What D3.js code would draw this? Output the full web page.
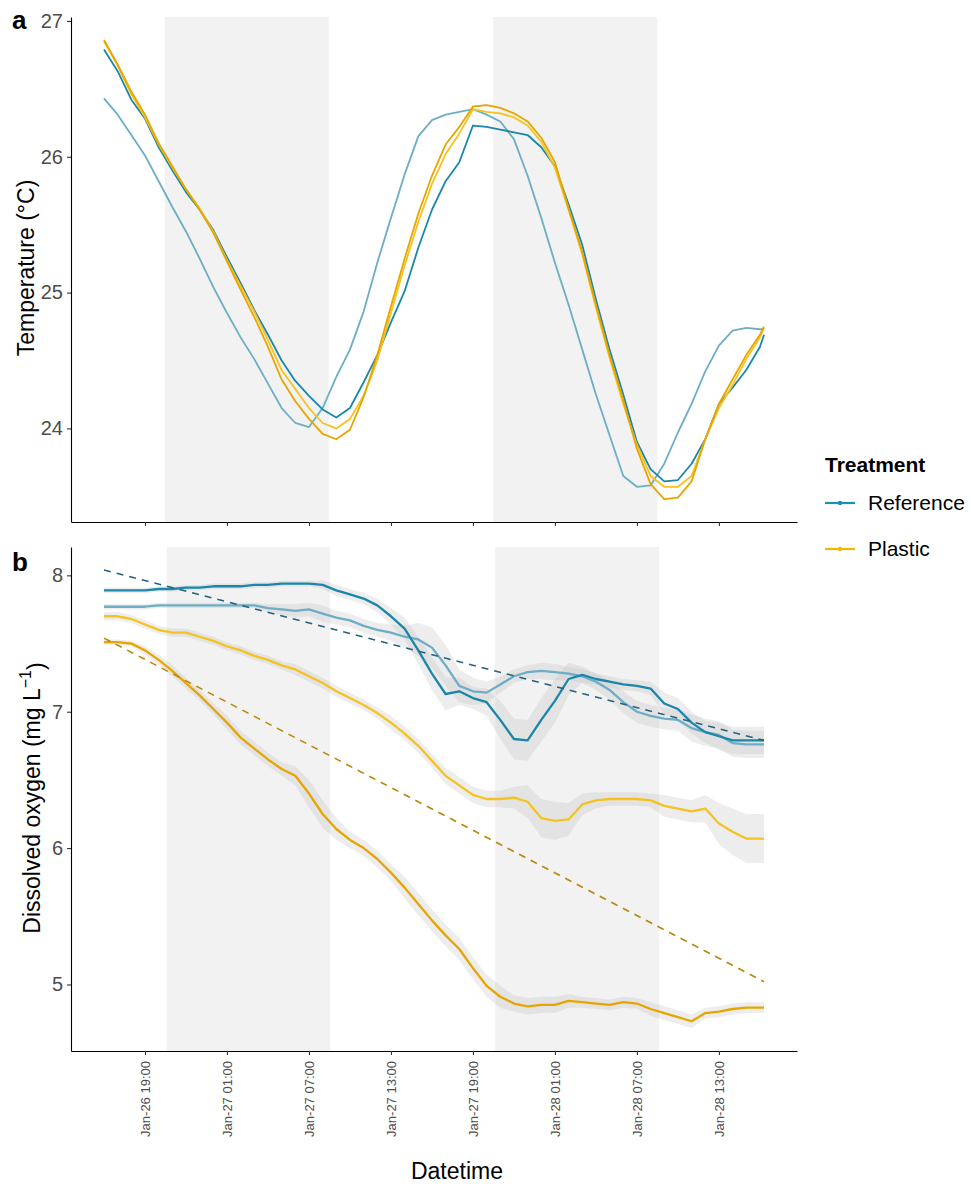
<!DOCTYPE html>
<html>
<head>
<meta charset="utf-8">
<script src="https://cdn.jsdelivr.net/npm/d3@7"></script>
<style>
  body { margin: 0; background: #fff; }
  text { font-family: "Liberation Sans", Arial, sans-serif; }
</style>
</head>
<body>
<svg id="chart" width="971" height="1188"></svg>
<script>
// sample times, hours after Jan-26 00:00
const hours = [16, 17, 18, 19, 20, 21, 22, 23, 24, 25,
  26, 27, 28, 29, 30, 31, 32, 33, 34, 35,
  36, 37, 38, 39, 40, 41, 42, 43, 44, 45,
  46, 47, 48, 49, 50, 51, 52, 53, 54, 55,
  56, 57, 58, 59, 60, 61, 62, 63, 64, 64.3]

const tickHours = [19, 25, 31, 37, 43, 49, 55, 61]

// dark periods (start, end) in hours
const nightA = [[20.45, 32.45], [44.48, 56.5]]
const nightB = [[20.6, 32.55], [44.63, 56.63]]

// panel a: temperature (°C)
const tempRef1 = [26.79, 26.63, 26.42, 26.28, 26.07, 25.90, 25.74, 25.61, 25.46, 25.26,
  25.07, 24.87, 24.69, 24.50, 24.35, 24.24, 24.14, 24.08, 24.15, 24.34,
  24.54, 24.78, 25.01, 25.33, 25.61, 25.82, 25.96, 26.23, 26.22, 26.20,
  26.18, 26.16, 26.07, 25.93, 25.65, 25.35, 24.95, 24.58, 24.25, 23.90,
  23.70, 23.61, 23.62, 23.74, 23.92, 24.18, 24.30, 24.43, 24.60, 24.69]
const tempRef2 = [26.43, 26.31, 26.16, 26.01, 25.82, 25.63, 25.45, 25.25, 25.04, 24.85,
  24.67, 24.51, 24.33, 24.15, 24.04, 24.01, 24.15, 24.38, 24.58, 24.86,
  25.22, 25.55, 25.87, 26.15, 26.27, 26.31, 26.33, 26.35, 26.31, 26.26,
  26.13, 25.86, 25.55, 25.22, 24.91, 24.58, 24.25, 23.95, 23.65, 23.57,
  23.58, 23.74, 23.97, 24.18, 24.42, 24.61, 24.72, 24.74, 24.73, 24.73]
const tempPlas1 = [26.85, 26.67, 26.46, 26.29, 26.09, 25.92, 25.76, 25.62, 25.45, 25.24,
  25.05, 24.86, 24.65, 24.43, 24.29, 24.15, 24.04, 24.00, 24.07, 24.24,
  24.50, 24.85, 25.20, 25.52, 25.80, 26.02, 26.17, 26.35, 26.33, 26.32,
  26.29, 26.23, 26.11, 25.92, 25.61, 25.28, 24.89, 24.52, 24.18, 23.88,
  23.65, 23.57, 23.57, 23.65, 23.92, 24.15, 24.32, 24.51, 24.67, 24.74]
const tempPlas2 = [26.86, 26.68, 26.48, 26.31, 26.10, 25.93, 25.76, 25.61, 25.44, 25.23,
  25.02, 24.82, 24.60, 24.36, 24.20, 24.07, 23.96, 23.92, 23.99, 24.23,
  24.54, 24.90, 25.25, 25.58, 25.86, 26.09, 26.22, 26.37, 26.38, 26.36,
  26.32, 26.26, 26.14, 25.96, 25.62, 25.30, 24.91, 24.54, 24.21, 23.85,
  23.59, 23.48, 23.49, 23.61, 23.92, 24.18, 24.36, 24.54, 24.69, 24.75]

// panel b: dissolved oxygen (mg/L) and ribbon half widths
const doRef1 = [7.89, 7.89, 7.89, 7.89, 7.90, 7.90, 7.91, 7.91, 7.92, 7.92,
  7.92, 7.93, 7.93, 7.94, 7.94, 7.94, 7.93, 7.89, 7.86, 7.83,
  7.78, 7.70, 7.61, 7.45, 7.28, 7.13, 7.15, 7.10, 7.07, 6.94,
  6.80, 6.79, 6.94, 7.08, 7.24, 7.27, 7.24, 7.22, 7.20, 7.19,
  7.17, 7.06, 7.02, 6.92, 6.85, 6.82, 6.79, 6.79, 6.79, 6.79]
const doRef2 = [7.77, 7.77, 7.77, 7.77, 7.78, 7.78, 7.78, 7.78, 7.78, 7.78,
  7.78, 7.78, 7.76, 7.75, 7.74, 7.75, 7.72, 7.69, 7.67, 7.63,
  7.60, 7.58, 7.55, 7.53, 7.47, 7.34, 7.19, 7.15, 7.14, 7.20,
  7.26, 7.29, 7.30, 7.29, 7.28, 7.26, 7.22, 7.16, 7.07, 7.00,
  6.97, 6.95, 6.94, 6.88, 6.85, 6.83, 6.77, 6.76, 6.76, 6.76]
const doPlas1 = [7.70, 7.70, 7.68, 7.64, 7.60, 7.58, 7.58, 7.55, 7.52, 7.48,
  7.45, 7.41, 7.38, 7.34, 7.31, 7.26, 7.21, 7.15, 7.10, 7.05,
  6.99, 6.92, 6.84, 6.75, 6.64, 6.53, 6.46, 6.39, 6.36, 6.36,
  6.37, 6.34, 6.22, 6.20, 6.21, 6.32, 6.35, 6.36, 6.36, 6.36,
  6.35, 6.31, 6.29, 6.27, 6.29, 6.18, 6.12, 6.07, 6.07, 6.07]
const doPlas2 = [7.51, 7.51, 7.50, 7.45, 7.38, 7.30, 7.21, 7.12, 7.02, 6.92,
  6.81, 6.73, 6.65, 6.58, 6.53, 6.40, 6.25, 6.14, 6.06, 6.00,
  5.92, 5.82, 5.71, 5.59, 5.47, 5.36, 5.26, 5.12, 4.99, 4.91,
  4.86, 4.84, 4.85, 4.85, 4.88, 4.87, 4.86, 4.85, 4.87, 4.86,
  4.82, 4.79, 4.76, 4.73, 4.79, 4.80, 4.82, 4.83, 4.83, 4.83]

const sdRef1 = [0.02, 0.02, 0.02, 0.02, 0.02, 0.02, 0.02, 0.02, 0.02, 0.02,
  0.02, 0.02, 0.02, 0.02, 0.02, 0.02, 0.03, 0.04, 0.04, 0.04,
  0.05, 0.06, 0.08, 0.10, 0.12, 0.12, 0.10, 0.08, 0.10, 0.14,
  0.15, 0.15, 0.16, 0.16, 0.12, 0.06, 0.04, 0.04, 0.04, 0.04,
  0.05, 0.08, 0.08, 0.08, 0.08, 0.10, 0.10, 0.10, 0.10, 0.10]
const sdRef2 = [0.02, 0.02, 0.02, 0.02, 0.02, 0.02, 0.02, 0.02, 0.02, 0.02,
  0.02, 0.02, 0.03, 0.04, 0.05, 0.05, 0.06, 0.05, 0.05, 0.05,
  0.05, 0.06, 0.08, 0.12, 0.15, 0.15, 0.12, 0.10, 0.08, 0.06,
  0.05, 0.05, 0.06, 0.06, 0.05, 0.05, 0.06, 0.07, 0.08, 0.08,
  0.08, 0.08, 0.08, 0.10, 0.10, 0.10, 0.10, 0.10, 0.10, 0.10]
const sdPlas1 = [0.03, 0.03, 0.03, 0.03, 0.03, 0.03, 0.03, 0.03, 0.03, 0.03,
  0.03, 0.03, 0.03, 0.03, 0.04, 0.04, 0.04, 0.04, 0.04, 0.04,
  0.04, 0.05, 0.05, 0.05, 0.05, 0.06, 0.06, 0.06, 0.06, 0.06,
  0.08, 0.12, 0.14, 0.14, 0.12, 0.08, 0.06, 0.05, 0.05, 0.05,
  0.05, 0.08, 0.08, 0.08, 0.10, 0.15, 0.17, 0.18, 0.18, 0.18]
const sdPlas2 = [0.02, 0.02, 0.02, 0.03, 0.04, 0.04, 0.04, 0.04, 0.04, 0.05,
  0.05, 0.05, 0.05, 0.05, 0.07, 0.10, 0.10, 0.08, 0.06, 0.06,
  0.06, 0.06, 0.08, 0.08, 0.08, 0.08, 0.08, 0.08, 0.08, 0.08,
  0.06, 0.06, 0.06, 0.06, 0.05, 0.04, 0.04, 0.04, 0.04, 0.04,
  0.05, 0.05, 0.05, 0.05, 0.04, 0.04, 0.04, 0.04, 0.04, 0.04]

// linear fits (start and end of the series)
const fitHours = [16, 64.3]
const fitRef = [8.04, 6.79]
const fitPlas = [7.54, 5.02]

const treatments = ['Reference', 'Plastic']

const colRef1 = '#1a87aa'
const colRef2 = '#6dadc6'
const colPlas1 = '#f5c21e'
const colPlas2 = '#e8a500'
const colRefKey = '#1f8db4'
const colPlasKey = '#f5b800'

const left = 71
const right = 797
const tickCol = '#4d4d4d'

const svg = d3.select('#chart')
const t0 = new Date(2023, 0, 26)
const toDate = (h) => new Date(t0.getTime() + h * 3600e3)
const fmt = d3.timeFormat('%b-%d %H:%M')

const hExt = d3.extent(hours)
const hPad = (hExt[1] - hExt[0]) * 0.05
const x = d3.scaleTime()
  .domain([toDate(hExt[0] - hPad), toDate(hExt[1] + hPad)])
  .range([left, right])

const padDomain = (lo, hi) => {
  const p = (hi - lo) * 0.05
  return [lo - p, hi + p]
}

const drawFrame = (g, y, top, bottom, nights, yTicks, showLabels) => {
  g.selectAll('rect.night')
    .data(nights)
    .enter()
    .append('rect')
    .attr('class', 'night')
    .attr('x', (d) => x(toDate(d[0])))
    .attr('width', (d) => x(toDate(d[1])) - x(toDate(d[0])))
    .attr('y', top)
    .attr('height', bottom - top)
    .attr('fill', '#f2f2f2')

  const yAxis = g.append('g')
    .attr('transform', `translate(${left},0)`)
    .call(d3.axisLeft(y)
      .tickValues(yTicks)
      .tickFormat(d3.format('d'))
      .tickSize(4)
      .tickPadding(4)
      .tickSizeOuter(0))
  yAxis.select('.domain').attr('stroke', '#000').attr('stroke-width', 1.1)
  yAxis.selectAll('.tick line').attr('stroke', '#333').attr('stroke-width', 1.1)
  yAxis.selectAll('.tick text')
    .attr('fill', tickCol)
    .style('font-size', '20px')

  const xAxis = g.append('g')
    .attr('transform', `translate(0,${bottom})`)
    .call(d3.axisBottom(x)
      .tickValues(tickHours.map(toDate))
      .tickSize(4)
      .tickSizeOuter(0)
      .tickFormat(showLabels ? fmt : ''))
  xAxis.select('.domain').attr('stroke', '#000').attr('stroke-width', 1.1)
  xAxis.selectAll('.tick line').attr('stroke', '#333').attr('stroke-width', 1.1)
  xAxis.selectAll('.tick text')
    .attr('fill', tickCol)
    .style('font-size', '13px')
    .attr('text-anchor', 'end')
    .attr('transform', 'rotate(-90)')
    .attr('x', -10)
    .attr('y', 0)
    .attr('dy', '0.35em')
}

// ---------- panel a ----------
const topA = 17
const bottomA = 522
const allTemp = tempRef1.concat(tempRef2, tempPlas1, tempPlas2)
const yA = d3.scaleLinear()
  .domain(padDomain(d3.min(allTemp), d3.max(allTemp)))
  .range([bottomA, topA])

const gA = svg.append('g')
drawFrame(gA, yA, topA, bottomA, nightA, [24, 25, 26, 27], false)

const lineA = d3.line()
  .x((d, i) => x(toDate(hours[i])))
  .y((d) => yA(d))

const seriesA = [
  { v: tempRef2, c: colRef2 },
  { v: tempRef1, c: colRef1 },
  { v: tempPlas1, c: colPlas1 },
  { v: tempPlas2, c: colPlas2 }
]
gA.selectAll('path.temp')
  .data(seriesA)
  .enter()
  .append('path')
  .attr('class', 'temp')
  .attr('d', (d) => lineA(d.v))
  .attr('fill', 'none')
  .attr('stroke', (d) => d.c)
  .attr('stroke-width', 1.8)
  .attr('stroke-linejoin', 'round')

// ---------- panel b ----------
const topB = 547
const bottomB = 1051
const lows = [doRef1, doRef2, doPlas1, doPlas2].flatMap((s, k) =>
  s.map((v, i) => v - [sdRef1, sdRef2, sdPlas1, sdPlas2][k][i]))
const highs = fitRef.concat(fitPlas, [doRef1, doRef2, doPlas1, doPlas2].flatMap((s, k) =>
  s.map((v, i) => v + [sdRef1, sdRef2, sdPlas1, sdPlas2][k][i])))
const yB = d3.scaleLinear()
  .domain(padDomain(d3.min(lows), d3.max(highs)))
  .range([bottomB, topB])

const gB = svg.append('g')
drawFrame(gB, yB, topB, bottomB, nightB, [5, 6, 7, 8], true)

const seriesB = [
  { v: doRef1, sd: sdRef1, c: colRef1 },
  { v: doRef2, sd: sdRef2, c: colRef2 },
  { v: doPlas1, sd: sdPlas1, c: colPlas1 },
  { v: doPlas2, sd: sdPlas2, c: colPlas2 }
]

const ribbon = d3.area()
  .x((d) => x(toDate(d.h)))
  .y0((d) => yB(d.v - d.sd))
  .y1((d) => yB(d.v + d.sd))

gB.selectAll('path.ribbon')
  .data(seriesB)
  .enter()
  .append('path')
  .attr('class', 'ribbon')
  .attr('d', (s) => ribbon(s.v.map((v, i) => ({ h: hours[i], v: v, sd: s.sd[i] }))))
  .attr('fill', '#bdbdbd')
  .attr('fill-opacity', 0.28)

const lineB = d3.line()
  .x((d, i) => x(toDate(hours[i])))
  .y((d) => yB(d))

gB.selectAll('path.do')
  .data([seriesB[1], seriesB[0], seriesB[2], seriesB[3]])
  .enter()
  .append('path')
  .attr('class', 'do')
  .attr('d', (d) => lineB(d.v))
  .attr('fill', 'none')
  .attr('stroke', (d) => d.c)
  .attr('stroke-width', 2.3)
  .attr('stroke-linejoin', 'round')

const fitLine = d3.line()
  .x((d, i) => x(toDate(fitHours[i])))
  .y((d) => yB(d))

gB.selectAll('path.fit')
  .data([{ v: fitRef, c: '#24627d' }, { v: fitPlas, c: '#b8860b' }])
  .enter()
  .append('path')
  .attr('class', 'fit')
  .attr('d', (d) => fitLine(d.v))
  .attr('fill', 'none')
  .attr('stroke', (d) => d.c)
  .attr('stroke-width', 1.6)
  .attr('stroke-dasharray', '7,6')

// ---------- titles ----------
svg.append('text')
  .attr('x', 12).attr('y', 29)
  .style('font-size', '26px').style('font-weight', 'bold')
  .text('a')
svg.append('text')
  .attr('x', 12).attr('y', 571)
  .style('font-size', '26px').style('font-weight', 'bold')
  .text('b')

svg.append('text')
  .attr('transform', 'translate(26,268) rotate(-90)')
  .attr('text-anchor', 'middle')
  .attr('dy', '0.35em')
  .style('font-size', '23px')
  .text('Temperature (°C)')

const doTitle = svg.append('text')
  .attr('transform', 'translate(32,798) rotate(-90)')
  .attr('text-anchor', 'middle')
  .attr('dy', '0.35em')
  .style('font-size', '23px')
doTitle.append('tspan').text('Dissolved oxygen (mg L')
doTitle.append('tspan').attr('dy', '-0.55em').style('font-size', '16px').text('−1')
doTitle.append('tspan').attr('dy', '0.55em').text(')')

svg.append('text')
  .attr('x', 457).attr('y', 1179)
  .attr('text-anchor', 'middle')
  .style('font-size', '23px')
  .text('Datetime')

// ---------- legend ----------
svg.append('text')
  .attr('x', 825).attr('y', 472)
  .style('font-size', '21px').style('font-weight', 'bold')
  .text('Treatment')

const leg = svg.selectAll('g.leg')
  .data(treatments)
  .enter()
  .append('g')
  .attr('class', 'leg')
  .attr('transform', (d, i) => `translate(825,${503 + i * 46})`)
leg.append('line')
  .attr('x1', 0).attr('x2', 30)
  .attr('stroke', (d, i) => i === 0 ? colRefKey : colPlasKey)
  .attr('stroke-width', 2.2)
leg.append('circle')
  .attr('cx', 15).attr('r', 2.2)
  .attr('fill', (d, i) => i === 0 ? colRefKey : colPlasKey)
leg.append('text')
  .attr('x', 43).attr('dy', '0.35em')
  .style('font-size', '21px')
  .text((d) => d)
</script>
</body>
</html>
